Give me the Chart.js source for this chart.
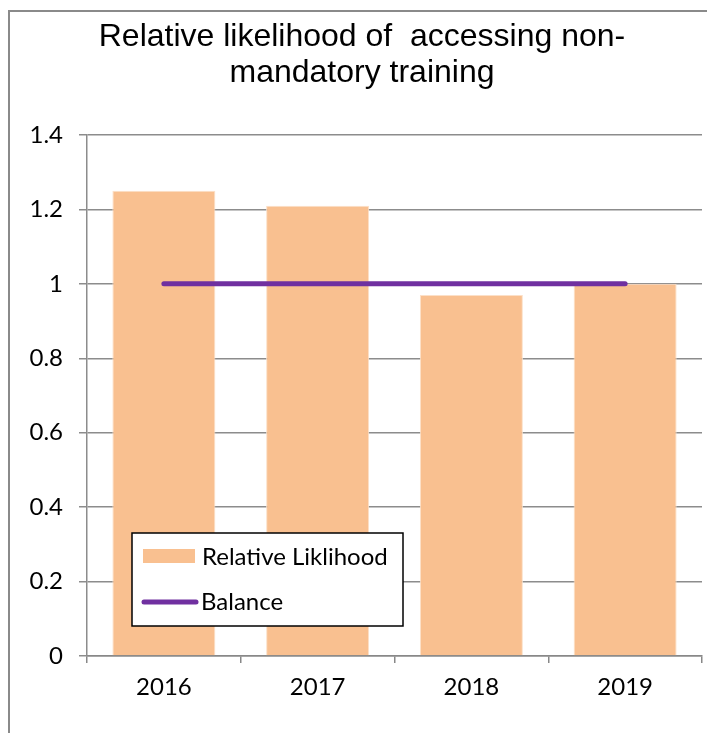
<!DOCTYPE html>
<html>
<head>
<meta charset="utf-8">
<script src="https://cdn.jsdelivr.net/npm/chart.js@4/dist/chart.umd.min.js"></script>
<style>
  html, body { margin: 0; padding: 0; background: #fff; }
  #wrap { width: 707px; height: 733px; position: relative; }
</style>
</head>
<body>
<div id="wrap"><canvas id="myChart" width="707" height="733"></canvas></div>
<script>
const years = ['2016', '2017', '2018', '2019']
const relativeLikelihood = [1.25, 1.21, 0.97, 1.0]
const balance = [1, 1, 1, 1]
const titleLines = ['Relative likelihood of  accessing non-', 'mandatory training']

// outer frame of the chart object
const framePlugin = {
  id: 'frame',
  beforeDraw(chart) {
    const ctx = chart.ctx
    ctx.save()
    ctx.strokeStyle = '#8a8a8a'
    ctx.lineWidth = 2
    ctx.strokeRect(9, 11, chart.width + 20, chart.height + 20)
    ctx.restore()
  }
}

// legend box sitting inside the plot, like the original
function drawBoxLegend(chart, items) {
  const ctx = chart.ctx
  const x = 132, y = 533, w = 271, h = 93
  ctx.save()
  ctx.fillStyle = '#fff'
  ctx.fillRect(x, y, w, h)
  ctx.strokeStyle = '#000'
  ctx.lineWidth = 1.5
  ctx.strokeRect(x, y, w, h)
  ctx.font = '24px Lato'
  ctx.textBaseline = 'middle'
  // bar item
  ctx.fillStyle = items[0].backgroundColor
  ctx.fillRect(143, 549, 52, 14)
  ctx.fillStyle = '#000'
  ctx.fillText(items[0].label, 202, 557)
  // line item
  ctx.strokeStyle = items[1].borderColor
  ctx.lineWidth = 5
  ctx.lineCap = 'round'
  ctx.beginPath()
  ctx.moveTo(144, 602)
  ctx.lineTo(196, 602)
  ctx.stroke()
  ctx.fillText(items[1].label, 201, 602)
  ctx.restore()
}

const data = {
  labels: years,
  datasets: [{
    type: 'line',
    label: 'Balance',
    data: balance,
    borderColor: '#7030A0',
    borderWidth: 5,
    borderCapStyle: 'round',
    pointRadius: 0,
    fill: false,
    order: 0
  }, {
    type: 'bar',
    label: 'Relative Liklihood',
    data: relativeLikelihood,
    backgroundColor: '#F9C090',
    borderColor: '#FCE0C8',
    borderWidth: 1,
    barPercentage: 0.67,
    categoryPercentage: 1,
    order: 1
  }]
}

const config = {
  data: data,
  options: {
    responsive: false,
    animation: false,
    layout: { padding: { left: 22, right: 5, top: 0, bottom: 0 } },
    scales: {
      x: {
        grid: {
          offset: true,
          drawOnChartArea: false,
          drawTicks: true,
          tickLength: 7,
          color: '#888',
          lineWidth: 1.5
        },
        border: { color: '#888', width: 1.5 },
        ticks: { color: '#000', font: { family: 'Lato', size: 24 }, padding: 10 },
        afterFit(scale) { scale.height = 77 }
      },
      y: {
        min: 0,
        max: 1.4,
        ticks: {
          stepSize: 0.2,
          color: '#000',
          padding: 16,
          font: { family: 'Lato', size: 24 },
          callback: v => Math.round(v * 10) / 10
        },
        grid: { color: '#8c8c8c', lineWidth: 1.5, tickLength: 8 },
        border: { color: '#8c8c8c', width: 1.5 },
        afterFit(scale) { scale.width = 65 }
      }
    },
    plugins: {
      legend: { display: false },
      tooltip: { enabled: false },
      title: {
        display: true,
        text: titleLines,
        color: '#000',
        font: { family: 'Liberation Sans', size: 32, weight: 'normal', lineHeight: 1.125 },
        padding: { top: 19, bottom: 44 }
      }
    }
  },
  plugins: [framePlugin, {
    id: 'boxLegend',
    afterDatasetsDraw(chart) {
      const ds = chart.data.datasets
      drawBoxLegend(chart, [ds[1], ds[0]])
    }
  }]
}

const myChart = new Chart(document.getElementById('myChart'), config)
</script>
</body>
</html>
